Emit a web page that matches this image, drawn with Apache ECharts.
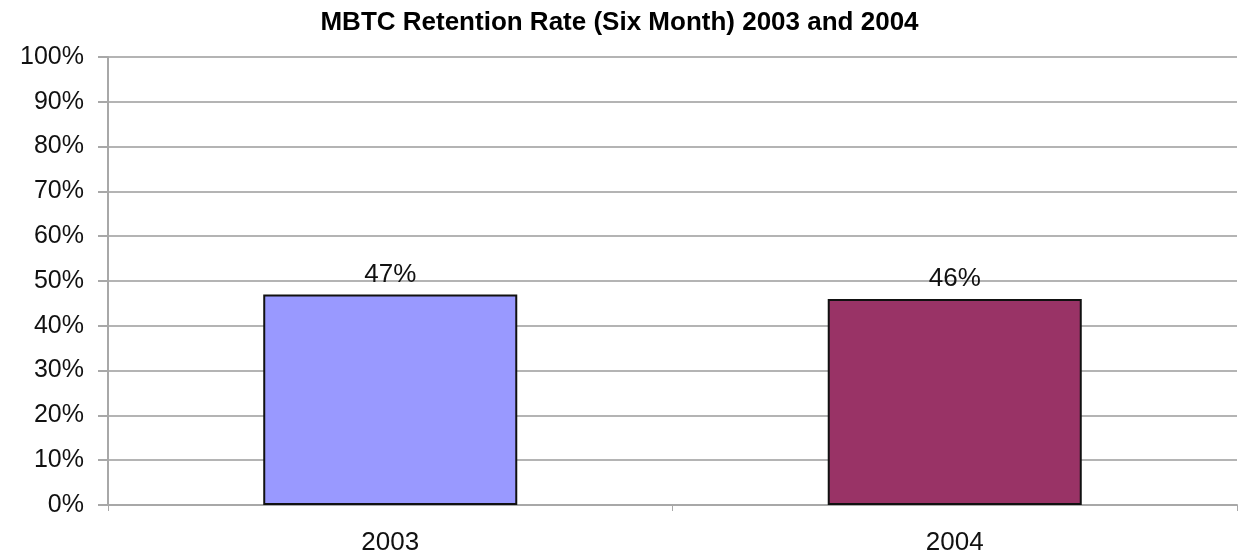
<!DOCTYPE html>
<html>
<head>
<meta charset="utf-8">
<script src="https://cdn.jsdelivr.net/npm/echarts@6/dist/echarts.min.js"></script>
<style>html,body{margin:0;padding:0;background:#fff;}#c{width:1239px;height:556px;}</style>
</head>
<body>
<div id="c"></div>
<script>
const titleText = 'MBTC Retention Rate (Six Month) 2003 and 2004';
const categories = ['2003', '2004'];
const values = [47, 46];
const barColors = ['#9999FF', '#993366'];

const chart = echarts.init(document.getElementById('c'));
chart.setOption({
  animation: false,
  backgroundColor: '#fff',
  textStyle: { fontFamily: 'Liberation Sans, Arial, sans-serif' },
  title: {
    text: titleText, left: 'center', top: 5,
    textStyle: { fontSize: 26, fontWeight: 'bold', color: '#000', fontFamily: 'Liberation Sans, Arial, sans-serif' }
  },
  grid: { left: 108, right: 2, top: 57, bottom: 47, containLabel: false },
  xAxis: {
    type: 'category', data: categories,
    axisLine: { lineStyle: { color: '#a8a8a8', width: 2 } },
    axisTick: { show: true, length: 6, lineStyle: { color: '#a8a8a8', width: 1 } },
    axisLabel: { fontSize: 26, color: '#111', margin: 25 },
    splitLine: { show: true, interval: function(i){ return i === categories.length; }, lineStyle: { color: '#a8a8a8', width: 2 } }
  },
  yAxis: {
    type: 'value', min: 0, max: 100, interval: 10,
    axisLine: { show: true, lineStyle: { color: '#a8a8a8', width: 2 } },
    axisTick: { show: true, length: 10, lineStyle: { color: '#a8a8a8', width: 2 } },
    axisLabel: { fontSize: 25, color: '#111', margin: 24, formatter: '{value}%' },
    splitLine: { lineStyle: { color: '#b4b4b4', width: 2 } }
  },
  series: [{
    type: 'bar',
    barWidth: '45%',
    data: values.map((v, i) => ({ value: v, itemStyle: { color: barColors[i] } })),
    itemStyle: { borderColor: '#111', borderWidth: 2 },
    label: { show: true, position: 'top', distance: 7, fontSize: 26, color: '#111', formatter: '{c}%' }
  }]
});
</script>
</body>
</html>
